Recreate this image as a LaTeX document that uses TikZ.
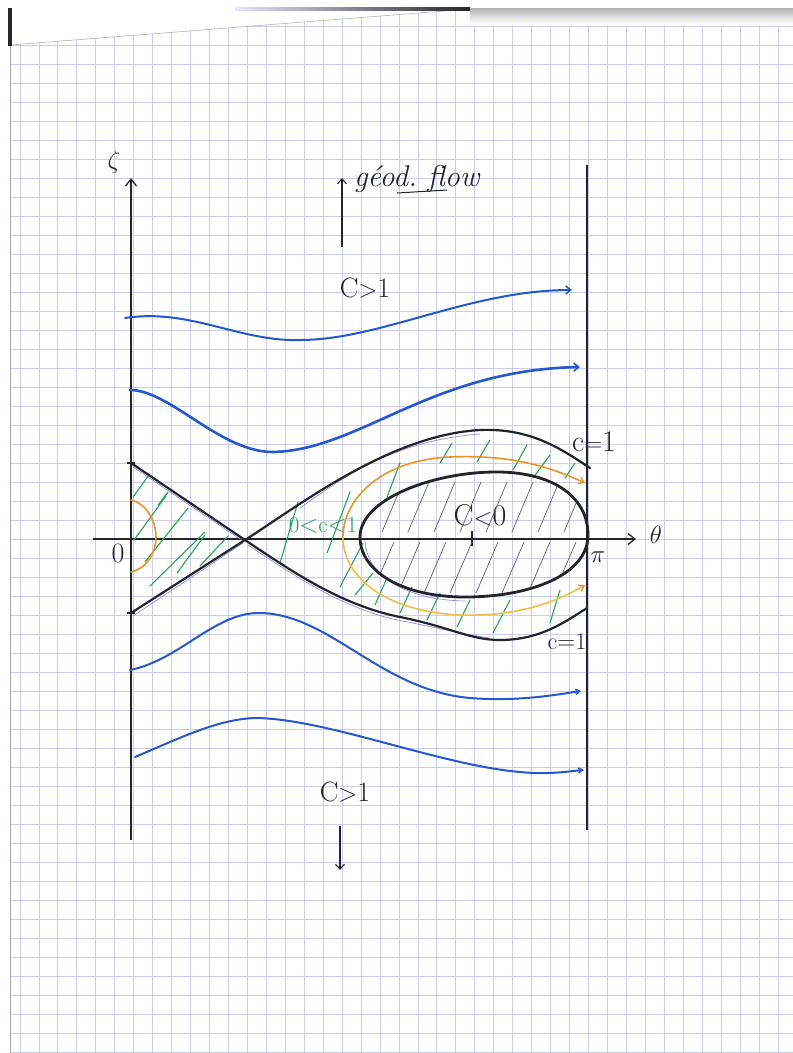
\documentclass[tikz,border=0pt]{standalone}
\usetikzlibrary{arrows.meta}
\definecolor{gridc}{RGB}{204,204,240}
\definecolor{ink}{RGB}{35,35,42}
\definecolor{blu}{RGB}{38,88,205}
\definecolor{grn}{RGB}{40,165,80}
\definecolor{org}{RGB}{232,150,40}
\definecolor{yel}{RGB}{240,190,70}
\definecolor{hatchc}{RGB}{95,95,100}
\definecolor{pencil}{RGB}{150,140,220}
\tikzset{
  axisline/.style={draw=ink, line width=1.3pt},
  sepline/.style={draw=ink, line width=2.2pt, line cap=round, line join=round},
  eggline/.style={draw=ink, line width=2.8pt, line join=round},
  flowline/.style={draw=blu, line width=2pt, line cap=round},
  gstroke/.style={draw=grn, line width=1.1pt, line cap=round},
  hstroke/.style={draw=hatchc, line width=0.7pt, line cap=round},
  orbit/.style={draw=org, line width=1.6pt, line cap=round},
  pencilline/.style={draw=pencil, line width=0.7pt},
  lbl/.style={inner sep=0pt, text=ink},
  flowtip/.style={-{Straight Barb[length=5pt,width=8pt,line width=1.6pt]}},
}
\begin{document}
\begin{tikzpicture}[x=1pt,y=-1pt]
\useasboundingbox (0,0) rectangle (793,1053);
\fill[white] (0,0) rectangle (793,1053);
% paper grid
\begin{scope}
\clip (10,45) -- (470,9) -- (793,9) -- (793,1053) -- (10,1053) -- cycle;
\foreach \k in {0,...,41} \draw[gridc, line width=0.9pt] ({20+18.95*\k},0) -- ({20+18.95*\k},1053);
\foreach \k in {-8,...,46} \draw[gridc, line width=0.9pt] (0,{900-19*\k}) -- (793,{900-19*\k});
\end{scope}
% scan edges
\draw[gray!60, line width=0.6pt] (10,45) -- (470,9);
\draw[gray!70, line width=0.8pt] (10,45) -- (10,1053);
\fill[black!85] (8,8) rectangle (12,46);
\shade[left color=blue!10, right color=black!85] (235,7) rectangle (470,10);
\shade[top color=black!30, bottom color=white] (470,8) rectangle (793,24);

% axes
\coordinate (zb) at (131,840);
\coordinate (zt) at (131,178);
\coordinate (tl) at (93,539);
\coordinate (tr) at (636,539);
\coordinate (rb) at (587,830);
\coordinate (rt) at (587,165);
\draw[axisline, -{Straight Barb[length=7pt,width=11pt,line width=1.3pt]}] (zb) -- (zt);
\draw[axisline, -{Straight Barb[length=7pt,width=11pt,line width=1.3pt]}] (tl) -- (tr);
\draw[axisline] (rb) -- (rt);
\draw[axisline] (472,531) -- (472,546);

% labels
\node[lbl, font=\fontsize{26}{30}\selectfont] (zeta) at (114,162) {$\zeta$};
\node[lbl, font=\fontsize{26}{30}\selectfont] (theta) at (656,535) {$\theta$};
\node[lbl, font=\fontsize{28}{32}\selectfont] (orig) at (118,553) {0};
\node[lbl, font=\fontsize{28}{32}\selectfont] (pi) at (598,557) {$\pi$};
\node[lbl, font=\fontsize{28}{32}\selectfont] (ctop) at (365,288) {C$>$1};
\node[lbl, font=\fontsize{28}{32}\selectfont] (cbot) at (345,792) {C$>$1};
\node[lbl, font=\fontsize{30}{34}\selectfont] (cone1) at (594,442) {c$=$1};
\node[lbl, font=\fontsize{24}{28}\selectfont] (cone2) at (567,642) {c$=$1};
\node[lbl, font=\fontsize{30}{34}\selectfont] (cneg) at (480,515) {C$<$0};
\node[lbl, text=grn, font=\fontsize{23}{27}\selectfont] (cmid) at (323,525) {0$<$c$<$1};
\node[lbl, font=\fontsize{30}{34}\selectfont\itshape, anchor=west] (geod) at (354,179) {géod.\ flow};
\draw[ink, line width=1pt] (397,193) -- (447,190);

% géod. flow arrows
\coordinate (ua) at (342,247);
\coordinate (ub) at (342,178);
\coordinate (da) at (340,826);
\coordinate (db) at (340,870);
\draw[axisline, line width=1.1pt, -{Straight Barb[length=5pt,width=9pt,line width=1.1pt]}] (ua) -- (ub);
\draw[axisline, line width=1.1pt, -{Straight Barb[length=5pt,width=9pt,line width=1.1pt]}] (da) -- (db);

% blue flow lines
\draw[flowline, flowtip] (125,318) .. controls (190,308) and (240,342) .. (300,340) .. controls (380,340) and (470,290) .. (572,290);
\draw[flowline, line width=2.6pt, flowtip] (130,390) .. controls (170,390) and (220,452) .. (273,452) .. controls (360,450) and (430,370) .. (580,367);
\draw[flowline, -{Straight Barb[length=4pt,width=5pt,line width=1.6pt]}] (130,670) .. controls (180,660) and (215,612) .. (260,613) .. controls (330,614) and (380,690) .. (470,698) .. controls (520,702) and (560,694) .. (581,691);
\draw[flowline, -{Straight Barb[length=4pt,width=5pt,line width=1.6pt]}] (135,757) .. controls (180,738) and (220,718) .. (258,718) .. controls (330,720) and (440,765) .. (520,772) .. controls (550,775) and (570,771) .. (584,770);

% hatch inside C<0 region
\begin{scope}
\clip (360,537) .. controls (360,500) and (430,473) .. (493,472) .. controls (550,471) and (588,495) .. (588,535) .. controls (588,575) and (530,597) .. (465,597) .. controls (400,597) and (360,570) .. (360,537) -- cycle;
\foreach \x in {382,408,...,582} \draw[hstroke] (\x,532) -- (\x+21,482);
\foreach \x in {372,398,...,572} \draw[hstroke] (\x,593) -- (\x+22,542);
\end{scope}

% faint pencil guide lines
\draw[pencilline] (133,467) -- (243,541);
\draw[pencilline] (133,616) -- (243,543);
\draw[pencilline] (248,545) .. controls (292,574) and (342,609) .. (402,621) .. controls (440,628) and (460,634) .. (490,638);
\draw[pencilline] (300,508) .. controls (340,480) and (390,441) .. (480,434);
\draw[pencilline] (365,540) .. controls (366,575) and (405,600) .. (465,601);

% green hatch (0<c<1)
\foreach \a/\b/\c/\d in {133/497/149/475, 134/540/166/496, 158/505/168/492, 145/562/188/508, 150/586/205/532, 177/573/205/535, 200/566/228/536,
  280/563/298/502, 327/553/350/492, 387/497/400/463, 440/463/452/443, 477/462/490/440, 513/470/527/445, 533/478/550/455, 565/478/575/463,
  340/587/363/543, 355/595/373/573, 375/605/387/578, 400/613/412/587, 427/620/440/593, 457/627/470/600, 493/633/510/600, 550/623/560/590}
  \draw[gstroke] (\a,\b) -- (\c,\d);

% orange orbits
\draw[orbit] (131,500) .. controls (150,505) and (156,525) .. (156,537) .. controls (156,552) and (148,568) .. (131,572);
\draw[orbit, {Straight Barb[length=5pt,width=7pt,line width=1.4pt]}-] (585,483) .. controls (540,462) and (500,455) .. (450,457) .. controls (380,460) and (343,500) .. (343,537);
\draw[orbit, draw=yel, -{Straight Barb[length=5pt,width=7pt,line width=1.4pt,color=org]}] (343,537) .. controls (343,580) and (390,612) .. (460,615) .. controls (520,617) and (560,600) .. (585,585);

% separatrix c=1
\draw[sepline] (131,613) -- (245,540) .. controls (300,505) and (390,435) .. (480,430) .. controls (530,428) and (560,448) .. (590,468);
\draw[sepline] (131,463) -- (245,540) .. controls (290,570) and (340,605) .. (400,617) .. controls (450,627) and (470,640) .. (500,640) .. controls (540,640) and (565,622) .. (587,608);
\draw[ink, line width=1.2pt] (127,463) -- (135,463);
\draw[ink, line width=1.2pt] (127,613) -- (135,613);

% C<0 boundary
\draw[eggline] (360,537) .. controls (360,500) and (430,473) .. (493,472) .. controls (550,471) and (588,495) .. (588,535) .. controls (588,575) and (530,597) .. (465,597) .. controls (400,597) and (360,570) .. (360,537) -- cycle;
\end{tikzpicture}
\end{document}
